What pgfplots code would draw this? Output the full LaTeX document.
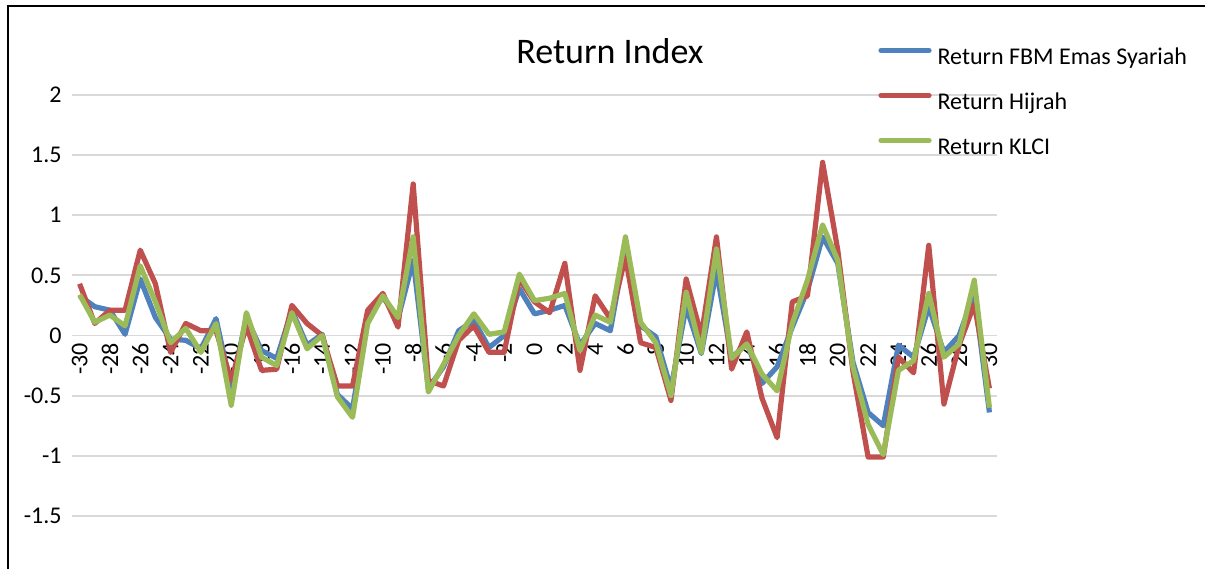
\documentclass[border=0pt]{standalone}
\usepackage{pgfplots}
\pgfplotsset{compat=1.18}
\usepackage{pgfplotstable}
\usepackage{fontspec}
\setmainfont{Carlito}
\definecolor{cblue}{HTML}{4F81BD}
\definecolor{cred}{HTML}{C0504D}
\definecolor{cgreen}{HTML}{9BBB59}
\definecolor{cgrid}{HTML}{D9D9D9}
\pgfplotstableread{
t blue red green
-30 0.33 0.43 0.34
-29 0.24 0.10 0.11
-28 0.21 0.21 0.17
-27 0.01 0.21 0.08
-26 0.47 0.71 0.58
-25 0.15 0.43 0.28
-24 -0.03 -0.14 -0.06
-23 -0.04 0.10 0.06
-22 -0.11 0.04 -0.14
-21 0.14 0.04 0.10
-20 -0.44 -0.375 -0.58
-19 0.15 0.08 0.19
-18 -0.125 -0.29 -0.18
-17 -0.19 -0.28 -0.25
-16 0.21 0.25 0.19
-15 -0.08 0.10 -0.11
-14 0.01 0.0 0.0
-13 -0.49 -0.42 -0.51
-12 -0.61 -0.42 -0.68
-11 0.15 0.21 0.10
-10 0.32 0.35 0.33
-9 0.14 0.07 0.15
-8 0.625 1.26 0.82
-7 -0.44 -0.375 -0.47
-6 -0.26 -0.42 -0.24
-5 0.04 -0.04 0.0
-4 0.125 0.08 0.18
-3 -0.10 -0.14 0.01
-2 0.0 -0.14 0.03
-1 0.39 0.47 0.51
0 0.18 0.28 0.29
1 0.21 0.19 0.31
2 0.25 0.60 0.35
3 -0.08 -0.29 -0.125
4 0.10 0.33 0.17
5 0.04 0.14 0.11
6 0.74 0.65 0.82
7 0.08 -0.06 0.11
8 -0.01 -0.10 -0.06
9 -0.44 -0.54 -0.50
10 0.24 0.47 0.36
11 -0.15 0.0 -0.14
12 0.54 0.82 0.72
13 -0.19 -0.28 -0.19
14 -0.06 0.03 -0.07
15 -0.40 -0.52 -0.32
16 -0.26 -0.85 -0.46
17 0.07 0.28 0.10
18 0.375 0.33 0.46
19 0.82 1.44 0.92
20 0.60 0.71 0.625
21 -0.22 -0.30 -0.26
22 -0.64 -1.01 -0.74
23 -0.75 -1.01 -0.99
24 -0.08 -0.18 -0.29
25 -0.18 -0.31 -0.21
26 0.24 0.75 0.35
27 -0.14 -0.57 -0.18
28 0.0 -0.08 -0.07
29 0.35 0.26 0.46
30 -0.64 -0.44 -0.60
}\datatable
\begin{document}
\begin{tikzpicture}
\path[use as bounding box] (0pt,0pt) rectangle (602.5pt,-284pt);
\draw[line width=1.1pt] (4pt,-290pt) -- (4pt,-2.8pt) -- (610pt,-2.8pt);
\node[font=\fontsize{18}{20}\selectfont, anchor=base] at (305pt,-31.5pt) {Return Index};
\begin{axis}[
  at={(36pt,-288pt)}, anchor=south west,
  scale only axis, width=462.5pt, height=240.5pt,
  xmin=-30.5, xmax=30.5, ymin=-2, ymax=2,
  axis x line=middle, axis y line=left,
  axis line style={draw=none},
  xtick={-30,-28,...,30},
  ytick={-1.5,-1,-0.5,0,0.5,1,1.5,2},
  yticklabels={-1.5,-1,-0.5,0,0.5,1,1.5,2},
  major tick length=0pt,
  ymajorgrids, xmajorgrids=false,
  grid style={cgrid, line width=0.9pt},
  /pgf/number format/assume math mode=true,
  tick label style={font=\fontsize{12}{14}\selectfont},
  yticklabel style={anchor=east, inner sep=0pt, xshift=-5pt},
  xticklabel style={rotate=90, anchor=east, inner sep=0pt, inner xsep=3.5pt},
  legend style={at={(0.8692,1.1018)}, anchor=north west, draw=none, fill=none,
    inner sep=0pt, row sep=10.5pt, column sep=3pt,
    nodes={inner sep=0pt, text height=9pt, text depth=3pt, font=\fontsize{12}{14}\selectfont}},
  legend cell align=left,
  legend image code/.code={\path (0pt,0pt); \draw[#1, line width=2.6pt, line cap=round] (1pt,4pt) -- (25pt,4pt);},
  clip=false,
]
\addplot[cblue, line width=2.6pt, line join=round] table[x=t, y=blue] {\datatable};
\addlegendentry{Return FBM Emas Syariah}
\addplot[cred, line width=2.6pt, line join=round] table[x=t, y=red] {\datatable};
\addlegendentry{Return Hijrah}
\addplot[cgreen, line width=2.6pt, line join=round] table[x=t, y=green] {\datatable};
\addlegendentry{Return KLCI}
\end{axis}
\end{tikzpicture}
\end{document}
